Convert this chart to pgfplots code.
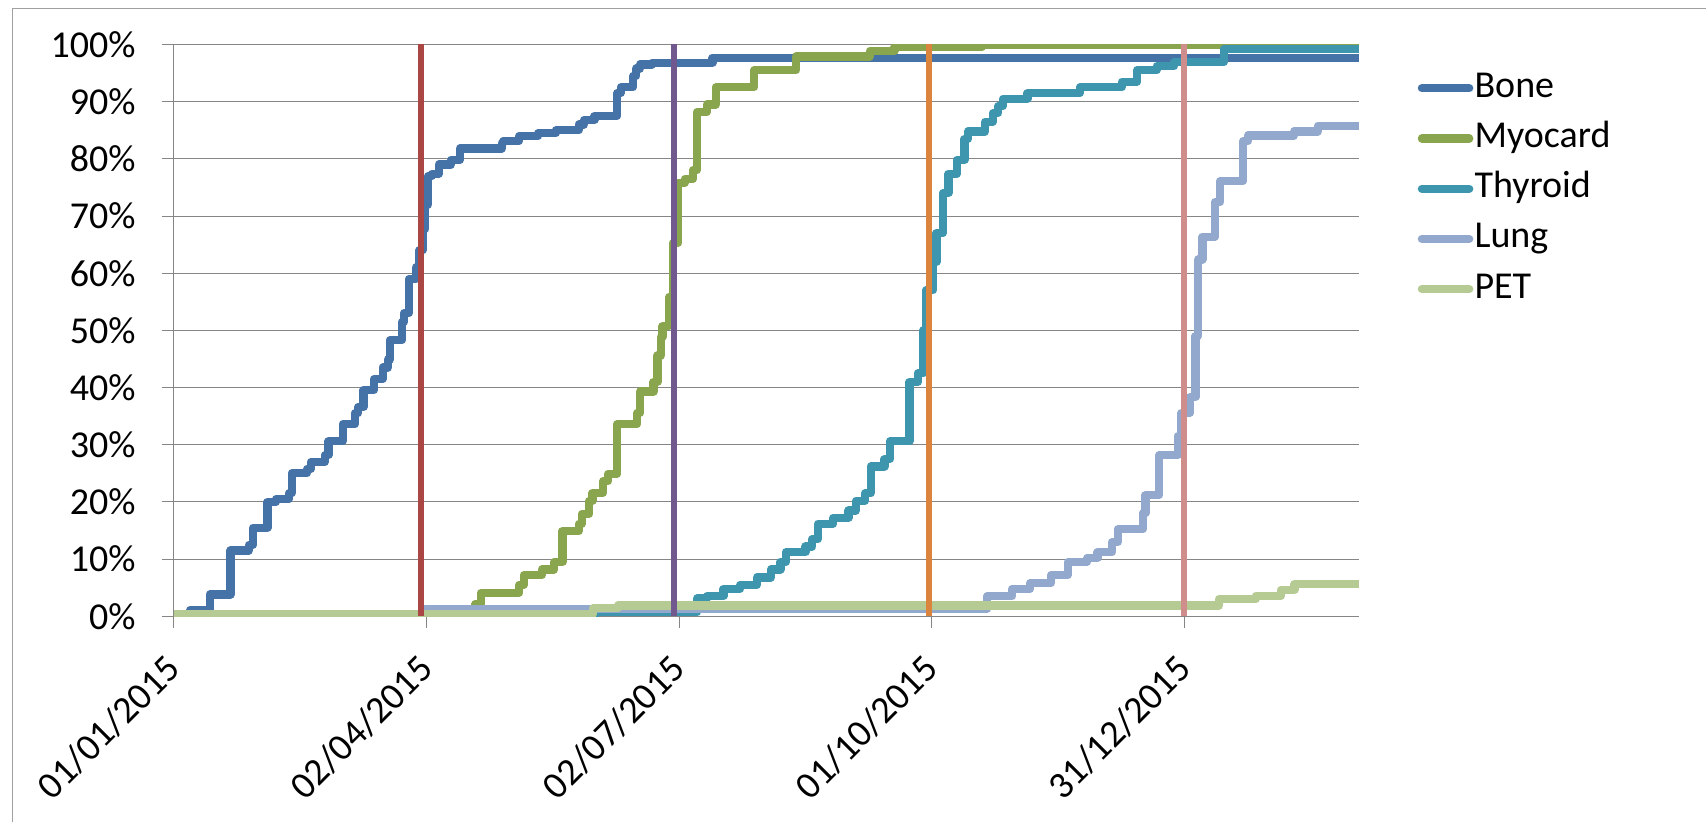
\documentclass[border=0pt]{standalone}
\usepackage{pgfplots}
\pgfplotsset{compat=1.18}
\usepackage{fontspec}
\setmainfont{Carlito}
\definecolor{cBone}{HTML}{4572A7}
\definecolor{cMyo}{HTML}{89A54E}
\definecolor{cThy}{HTML}{3D96AE}
\definecolor{cLung}{HTML}{92A8CD}
\definecolor{cPET}{HTML}{B6CB93}
\definecolor{cRed}{HTML}{AA4643}
\definecolor{cPur}{HTML}{71588F}
\definecolor{cOra}{HTML}{DB843D}
\definecolor{cPink}{HTML}{CF8E8C}
\definecolor{gridgray}{HTML}{868686}
\definecolor{bordergray}{HTML}{A0A0A0}
\newcommand{\chartfont}{\fontsize{19pt}{22pt}\selectfont}
\pgfplotsset{
  series/.style={color=#1, const plot, line width=4.1pt, line join=round},
  vline/.style={color=#1, sharp plot, line width=3pt, forget plot},
}
\begin{document}
\begin{tikzpicture}
\path[use as bounding box] (-86.925pt,-102.85pt) rectangle (766.075pt,308.15pt);
\draw[color=bordergray, line width=0.7pt] (-80.6pt,-102.85pt) -- (-80.6pt,304pt) -- (766.075pt,304pt);
\begin{axis}[
  at={(0pt,0pt)}, anchor=south west,
  width=592.7pt, height=285.9pt, scale only axis,
  xmin=0, xmax=427, ymin=0, ymax=100,
  axis lines=left,
  axis line style={-, draw=gridgray, line width=0.6pt},
  xtick={0,91,182,273,364},
  xticklabels={01/01/2015,02/04/2015,02/07/2015,01/10/2015,31/12/2015},
  ytick={0,10,...,100},
  yticklabels={0\%,10\%,20\%,30\%,40\%,50\%,60\%,70\%,80\%,90\%,100\%},
  tick align=outside, major tick length=6pt,
  tick style={draw=gridgray, line width=0.5pt},
  ymajorgrids, grid style={draw=gridgray, line width=0.5pt},
  tick label style={font=\chartfont, text=black},
  yticklabel style={inner sep=0pt},
  yticklabel shift=13pt,
  xticklabel style={inner sep=0pt, rotate=45, anchor=east},
  xticklabel shift=17pt,
  legend cell align=left,
  legend style={at={(1.049,0.956)}, anchor=north west, draw=none, fill=none,
    font=\chartfont, inner sep=0pt, row sep=6.9pt,
    nodes={inner sep=0.6pt, text height=13pt, text depth=4pt}},
  legend image code/.code={\draw[#1, line width=4.1pt, line cap=round] (0pt,0pt) -- (23.7pt,0pt);},
]
\addplot[series=cBone] coordinates {
(0,0) (5.9,1.1) (12.9,3.8) (20.4,11.5) (27,12.5) (28.5,15.5) (33.7,20) (36.8,20.5)
(41.5,21.5) (42.5,25) (48,25.8) (49.4,27) (54.4,28.2) (55.7,30.6) (60.8,33.6)
(65.2,35.5) (66.4,36.6) (68.3,39.6) (72.1,41.5) (75.2,43.5) (77.1,44.9) (77.8,48.3)
(82.2,51.5) (82.9,53) (84.7,59) (87.2,61) (88.5,64) (89.7,67.7) (90.6,72) (91.6,77)
(92.9,77.4) (95.4,79) (99.8,79.8) (103,81.8) (118.1,82.8) (118.7,83.1) (124.4,84)
(131.3,84.5) (137.6,85) (145.8,86) (147.7,86.8) (151.5,87.5) (159.7,91.5) (161,92.5)
(165.4,94.5) (166.6,95.8) (167.9,96.5) (172.3,96.8) (194,97.7) (427,97.7)};
\addlegendentry{Bone}
\addplot[series=cMyo] coordinates {
(0,0) (108.6,2.1) (110.5,4.1) (124.4,5.5) (126,7.2) (132.6,8.2) (137,9.5) (140,14.9)
(145.8,16.2) (147,17.9) (149.6,20.2) (150.8,21.6) (154.6,23.6) (156.4,24.9) (159.7,33.6)
(166.9,35.6) (168,39.3) (172.8,41) (174.2,45.6) (175.4,48.9) (176,50.7) (178.5,55.9)
(179.8,65.3) (181.7,75.8) (184,76.5) (187,78) (188.5,88.2) (192,89.5) (195.2,92.5)
(209.1,95.5) (224.2,97.9) (250.7,98.9) (259.6,99.5) (291,99.9) (427,99.9)};
\addlegendentry{Myocard}
\addplot[series=cThy] coordinates {
(0,0) (151.5,0.7) (188.5,3.1) (192,3.5) (198,4.8) (204,5.5) (210,6.8) (215,8.2)
(218.5,9.5) (220.5,11.2) (227.5,12.2) (230,13.5) (232,16.2) (237.5,17.2) (243,18.5)
(245.7,20.2) (249,21.5) (251,26.2) (256,27.5) (258,30.6) (265,41) (268,42.5) (270,50)
(271,57) (273.5,62) (274.7,67) (277,74) (279,77.4) (282,79.8) (284.8,83.5) (286,84.8)
(292.3,86.5) (295,88) (297,89.2) (298.6,90.5) (307.5,91.5) (326.4,92.5) (341.5,93.5)
(347,95.5) (354,96.2) (360.4,96.9) (378.2,99.2) (427,99.2)};
\addlegendentry{Thyroid}
\addplot[series=cLung] coordinates {
(0,0) (90.4,1.3) (293,3.5) (302,4.8) (308.5,5.8) (316,7.2) (322,9.5) (329,10.2)
(332.7,11.2) (338,13) (340,15.2) (349,18) (350,21.2) (355,28.2) (361.6,31.5) (363,35.6)
(366,38.3) (368,49) (369,62.4) (370.5,66.4) (375,72.4) (376.9,76.1) (385.2,83.1)
(387,84.1) (403.6,84.8) (412,85.8) (427,85.8)};
\addlegendentry{Lung}
\addplot[series=cPET] coordinates {
(0,0.45) (151,1.4) (160,1.9) (376.5,3.0) (389.7,3.6) (398.8,4.65) (403.7,5.65) (427,5.65)};
\addlegendentry{PET}
\addplot[vline=cRed] coordinates {(89,0) (89,100)};
\addplot[vline=cPur] coordinates {(180,0) (180,100)};
\addplot[vline=cOra] coordinates {(272,0) (272,100)};
\addplot[vline=cPink] coordinates {(364,0) (364,100)};
\end{axis}
\end{tikzpicture}
\end{document}
